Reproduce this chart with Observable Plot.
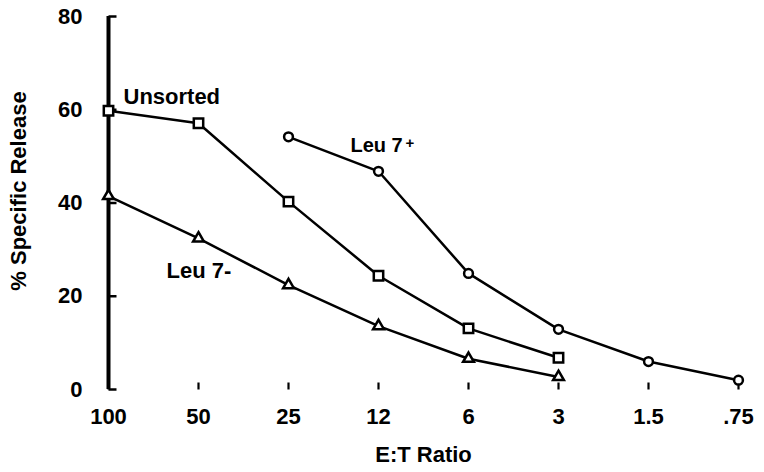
<!DOCTYPE html>
<html><head><meta charset="utf-8">
<script src="https://cdn.jsdelivr.net/npm/d3@7"></script>
<script src="https://cdn.jsdelivr.net/npm/@observablehq/plot@0.6"></script>
<style>body{margin:0;background:#fff} svg{display:block}</style>
</head><body><div id="chart"></div>
<script>
const ratios = ["100","50","25","12","6","3","1.5",".75"];
const yTicks = [0,20,40,60,80];

const unsortedX = ["100","50","25","12","6","3"];
const unsortedY = [59.8, 57.1, 40.3, 24.4, 13.1, 6.8];

const leuPlusX = ["25","12","6","3","1.5",".75"];
const leuPlusY = [54.2, 46.8, 24.9, 12.9, 6.0, 2.0];

const leuMinusX = ["100","50","25","12","6","3"];
const leuMinusY = [41.5, 32.4, 22.4, 13.6, 6.6, 2.7];

const seriesNames = ["Unsorted", "Leu 7+", "Leu 7-"];
const seriesSymbols = ["square", "circle", "triangle"];

const rows = [];
[[unsortedX, unsortedY], [leuPlusX, leuPlusY], [leuMinusX, leuMinusY]].forEach(([xs, ys], i) => {
  xs.forEach((x, j) => rows.push({series: seriesNames[i], symbol: seriesSymbols[i], x, y: ys[j]}));
});

// annotation labels (text, anchor category, value)
const noteText = ["Unsorted", "Leu 7", "+", "Leu 7-"];
const noteX = ["100", "12", "12", "50"];
const noteY = [62.8, 52.3, 52.9, 25.4];

// style (not data)
const noteStyle = [
  {dx: 15, fontSize: 22},
  {dx: -28, fontSize: 20},
  {dx: 27, fontSize: 15},
  {dx: -32, fontSize: 22}
];
const dotR = {square: 5.3, circle: 4.4, triangle: 4};
// inward tick glyphs
const tickRight = {draw(ctx) { ctx.moveTo(0, 0); ctx.lineTo(8, 0); }};
const tickUp = {draw(ctx) { ctx.moveTo(0, 0); ctx.lineTo(0, -7); }};

const font = "'Liberation Sans', Arial, Helvetica, sans-serif";

const chart = Plot.plot({
  width: 764,
  height: 472,
  marginLeft: 105,
  marginRight: 23,
  marginTop: 16,
  marginBottom: 83,
  style: {fontFamily: font, fontWeight: "bold", background: "#fff", color: "#000"},
  x: {type: "point", domain: ratios, padding: 0},
  y: {domain: [0, 80]},
  marks: [
    // inward ticks
    Plot.dot(ratios, {x: d => d, y: () => 0, symbol: tickUp, fill: "none", stroke: "#000", strokeWidth: 2.2}),
    Plot.dot(yTicks, {x: () => ratios[0], y: d => d, symbol: tickRight, fill: "none", stroke: "#000", strokeWidth: 2.5}),
    // tick labels
    Plot.axisX({ticks: ratios, tickSize: 0, tickPadding: 19, fontSize: 22, label: null, style: {letterSpacing: "-1.3px"}}),
    Plot.axisY({ticks: yTicks, tickSize: 0, tickPadding: 23, fontSize: 22, label: null, style: {letterSpacing: "-1px"}}),
    // axis lines
    Plot.ruleX([ratios[0]], {y1: 0, y2: 80, strokeWidth: 4}),
    Plot.ruleY([0], {x1: ratios[0], x2: ratios[ratios.length - 1], strokeWidth: 4}),
    // axis titles
    Plot.text(["% Specific Release"], {frameAnchor: "left", textAnchor: "middle", rotate: -90, dx: -87, dy: -12, fontSize: 22, fontWeight: "bold", letterSpacing: "0.3px"}),
    Plot.text(["E:T Ratio"], {frameAnchor: "bottom", dy: 72, fontSize: 22, fontWeight: "bold"}),
    // series
    Plot.line(rows, {x: "x", y: "y", z: "series", stroke: "#000", strokeWidth: 2.5}),
    ...seriesSymbols.map(s => Plot.dot(rows.filter(d => d.symbol === s), {x: "x", y: "y", symbol: s, r: dotR[s], fill: "#fff", stroke: "#000", strokeWidth: 2.5})),
    // annotations
    ...noteText.map((t, i) => Plot.text([t], {x: () => noteX[i], y: () => noteY[i], dx: noteStyle[i].dx, textAnchor: "start", fontSize: noteStyle[i].fontSize, fontWeight: "bold"}))
  ]
});
document.getElementById("chart").appendChild(chart);
</script>
</body></html>
